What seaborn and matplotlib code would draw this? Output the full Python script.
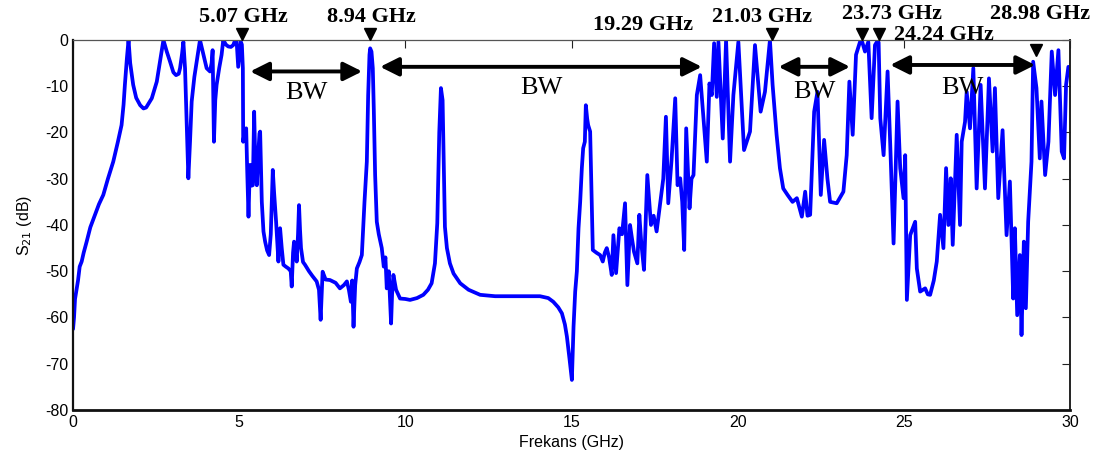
import matplotlib
matplotlib.use("Agg")
import matplotlib.pyplot as plt
import seaborn as sns
import pandas as pd

# S21 trace (GHz, dB)
freq = [
    0.00, 0.03, 0.06, 0.11, 0.15, 0.20, 0.26, 0.32, 0.41, 0.52, 0.66, 0.78, 0.91, 1.05, 1.21, 1.35,
    1.46, 1.52, 1.56, 1.62, 1.67, 1.72, 1.81, 1.90, 2.02, 2.12, 2.20, 2.37, 2.52, 2.62, 2.72, 2.82,
    2.92, 3.02, 3.10, 3.18, 3.22, 3.28, 3.32, 3.37, 3.42, 3.47, 3.52, 3.57, 3.65, 3.72, 3.82, 3.92,
    4.02, 4.12, 4.17, 4.20, 4.24, 4.28, 4.32, 4.40, 4.47, 4.52, 4.60, 4.67, 4.75, 4.82, 4.88, 4.92,
    4.97, 5.05, 5.08, 5.11, 5.12, 5.16, 5.18, 5.21, 5.24, 5.28, 5.31, 5.33, 5.37, 5.41, 5.45, 5.48,
    5.53, 5.57, 5.61, 5.63, 5.68, 5.73, 5.78, 5.84, 5.90, 5.95, 6.01, 6.05, 6.11, 6.15, 6.18, 6.23,
    6.28, 6.33, 6.40, 6.48, 6.55, 6.58, 6.62, 6.65, 6.70, 6.73, 6.77, 6.80, 6.83, 6.86, 6.92, 6.98,
    7.10, 7.20, 7.33, 7.40, 7.45, 7.48, 7.51, 7.60, 7.73, 7.90, 8.03, 8.15, 8.24, 8.30, 8.36, 8.40,
    8.44, 8.49, 8.54, 8.62, 8.69, 8.77, 8.84, 8.88, 8.92, 8.94, 8.98, 9.02, 9.05, 9.09, 9.14, 9.20,
    9.29, 9.35, 9.40, 9.44, 9.50, 9.57, 9.60, 9.64, 9.72, 9.84, 10.00, 10.14, 10.35, 10.54, 10.68, 10.79,
    10.89, 10.96, 11.02, 11.07, 11.12, 11.19, 11.25, 11.34, 11.45, 11.65, 11.90, 12.25, 12.70, 13.25, 14.05, 14.30,
    14.45, 14.60, 14.71, 14.80, 14.86, 14.94, 15.01, 15.06, 15.11, 15.16, 15.21, 15.26, 15.31, 15.35, 15.40, 15.43,
    15.47, 15.50, 15.56, 15.60, 15.64, 15.75, 15.86, 15.94, 16.00, 16.06, 16.13, 16.21, 16.26, 16.34, 16.44, 16.52,
    16.61, 16.68, 16.76, 16.82, 16.88, 16.98, 17.04, 17.10, 17.18, 17.28, 17.34, 17.39, 17.47, 17.56, 17.62, 17.68,
    17.76, 17.84, 17.91, 18.01, 18.12, 18.19, 18.27, 18.33, 18.39, 18.45, 18.55, 18.61, 18.67, 18.77, 18.87, 18.97,
    19.07, 19.15, 19.22, 19.29, 19.37, 19.42, 19.55, 19.65, 19.77, 19.87, 20.02, 20.19, 20.37, 20.52, 20.69, 20.82,
    20.97, 21.05, 21.17, 21.27, 21.37, 21.50, 21.65, 21.78, 21.93, 22.03, 22.10, 22.18, 22.30, 22.40, 22.50, 22.60,
    22.70, 22.78, 22.98, 23.18, 23.28, 23.36, 23.46, 23.56, 23.68, 23.73, 23.83, 23.93, 24.03, 24.13, 24.19, 24.24,
    24.29, 24.39, 24.51, 24.59, 24.69, 24.81, 24.89, 24.99, 25.04, 25.09, 25.19, 25.34, 25.39, 25.49, 25.64, 25.72,
    25.79, 25.90, 25.99, 26.09, 26.19, 26.27, 26.34, 26.41, 26.47, 26.59, 26.69, 26.74, 26.84, 26.89, 26.99, 27.09,
    27.19, 27.31, 27.44, 27.56, 27.67, 27.74, 27.84, 27.97, 28.09, 28.19, 28.29, 28.34, 28.41, 28.49, 28.54, 28.61,
    28.67, 28.74, 28.84, 28.89, 28.99, 29.09, 29.14, 29.25, 29.35, 29.45, 29.55, 29.65, 29.75, 29.82, 29.88, 29.95,
]
s21 = [
    -62.5, -60.0, -56.0, -53.7, -52.0, -49.0, -47.9, -46.0, -43.6, -40.5, -37.8, -35.5, -33.5, -30.0, -26.3, -22.0,
    -18.4, -14.0, -9.7, -4.0, 0.0, -5.0, -9.7, -12.5, -14.1, -14.8, -14.6, -12.6, -9.0, -4.5, 0.0, -2.5,
    -4.7, -7.0, -7.6, -7.3, -6.1, -3.0, -0.4, -6.1, -18.0, -29.9, -22.0, -13.3, -8.0, -4.7, 0.0, -3.0,
    -6.1, -6.8, -5.0, -2.2, -22.0, -13.0, -9.7, -6.0, -3.2, 0.0, -1.0, -1.4, -1.5, -1.1, 0.0, 0.0,
    -5.8, -0.4, -1.0, -6.1, -22.0, -20.0, -21.3, -19.1, -28.0, -38.2, -30.0, -27.0, -31.5, -31.4, -15.5, -25.0,
    -31.4, -25.0, -20.2, -19.8, -35.0, -41.4, -43.6, -45.5, -46.5, -42.0, -28.1, -33.0, -39.3, -44.0, -47.9, -40.7,
    -45.0, -48.6, -49.0, -49.4, -50.0, -53.3, -46.0, -43.6, -45.0, -47.9, -42.0, -35.7, -41.0, -45.0, -48.0, -48.6,
    -50.0, -51.0, -52.2, -54.0, -60.5, -55.0, -50.1, -51.8, -51.9, -52.5, -53.7, -53.0, -52.2, -54.0, -56.6, -52.0,
    -62.0, -53.0, -49.4, -48.0, -46.5, -35.0, -26.3, -12.0, -3.2, -1.8, -2.5, -6.1, -15.0, -29.2, -39.3, -42.0,
    -45.0, -49.0, -47.0, -53.7, -50.0, -61.3, -55.0, -50.8, -54.0, -55.9, -56.0, -56.2, -55.8, -55.1, -54.0, -52.6,
    -48.3, -39.6, -20.0, -10.4, -13.0, -40.4, -45.0, -48.3, -50.5, -52.6, -54.0, -55.1, -55.4, -55.4, -55.4, -55.8,
    -56.6, -57.8, -59.1, -61.5, -64.1, -69.0, -73.5, -62.0, -54.4, -50.0, -40.7, -35.0, -27.7, -23.4, -22.0, -14.1,
    -17.0, -18.4, -19.8, -33.0, -45.4, -46.0, -46.5, -47.9, -46.0, -45.0, -47.0, -50.8, -42.2, -50.4, -40.7, -42.0,
    -35.3, -53.0, -40.0, -43.0, -45.8, -48.3, -37.8, -44.0, -49.7, -29.2, -35.0, -40.0, -38.0, -41.4, -38.0, -34.6,
    -30.0, -16.6, -35.3, -25.9, -12.6, -31.4, -29.9, -35.0, -45.4, -19.1, -36.4, -30.0, -29.2, -11.9, -7.6, -16.9,
    -26.3, -9.4, -11.9, -0.7, -12.3, -0.4, -21.3, 0.0, -26.3, -11.9, -0.4, -23.8, -19.8, -1.1, -15.5, -11.2,
    0.0, -9.7, -20.5, -27.7, -32.1, -33.5, -35.0, -34.2, -38.2, -32.8, -38.0, -37.8, -15.5, -11.2, -33.5, -21.6,
    -30.0, -35.0, -35.3, -32.8, -24.9, -9.0, -20.5, -3.2, -0.4, 0.0, -2.5, -0.4, -16.9, -1.1, -0.4, -0.5,
    -16.9, -24.9, -6.8, -22.7, -44.0, -13.3, -27.7, -34.2, -24.9, -56.2, -42.2, -39.3, -49.4, -54.4, -53.7, -55.0,
    -55.1, -52.0, -47.9, -37.8, -45.0, -27.7, -40.0, -29.9, -44.3, -20.5, -40.0, -22.0, -17.7, -11.2, -19.1, -6.1,
    -32.1, -9.7, -32.1, -8.3, -24.1, -10.4, -34.2, -19.5, -42.2, -30.6, -55.9, -40.7, -59.5, -46.5, -63.8, -43.6,
    -58.0, -39.3, -26.3, -4.7, -10.4, -25.6, -13.3, -29.2, -22.0, -2.5, -11.9, -2.2, -24.1, -25.6, -9.7, -5.8,
]

# annotated resonance frequencies
marker_freqs = [5.07, 8.94, 21.03, 23.73, 24.24, 28.98]
label_texts = ["5.07 GHz", "8.94 GHz", "19.29 GHz", "21.03 GHz", "23.73 GHz", "24.24 GHz", "28.98 GHz"]
# bandwidth arrows (start, end) in GHz
bw_start = [5.33, 9.24, 21.23, 24.59]
bw_end = [8.70, 18.92, 23.38, 28.95]

df = pd.DataFrame({"Frekans (GHz)": freq, "S21": s21})

sns.set_theme(style="white")
plt.rcParams["font.family"] = ["Liberation Sans", "DejaVu Sans"]
plt.rcParams["axes.unicode_minus"] = False
plt.rcParams["text.color"] = "black"
plt.rcParams["axes.labelcolor"] = "black"

fig = plt.figure(figsize=(11.1, 4.63), dpi=100)
ax = fig.add_axes([0.0658, 0.1145, 0.8982, 0.7991])

sns.lineplot(data=df, x="Frekans (GHz)", y="S21", sort=False, estimator=None,
             color="#0000ff", lw=2.7, ax=ax)

ax.set_xlim(0, 30)
ax.set_ylim(-80, 0)
ax.set_xticks(range(0, 31, 5))
ax.set_yticks(range(-80, 1, 10))
ax.tick_params(direction="in", length=6, width=0.8, colors="#222222", labelsize=11.5,
               top=True, right=True, labelcolor="black")
ax.set_xlabel("Frekans (GHz)", fontsize=11.5, labelpad=4)
ax.set_ylabel("S$_{21}$ (dB)", fontsize=11.5, labelpad=8)

for side, lw, col in [("bottom", 2.0, "#111111"), ("left", 1.6, "#111111"),
                      ("top", 0.9, "#555555"), ("right", 1.4, "#222222")]:
    ax.spines[side].set_visible(True)
    ax.spines[side].set_linewidth(lw)
    ax.spines[side].set_color(col)

# resonance markers
marker_y = [1.3, 1.3, 1.3, 1.3, 1.3, -2.2]
ax.plot(marker_freqs, marker_y, "v", color="black", ms=9, clip_on=False, zorder=5)

# frequency labels
label_pos = [(5.12, 5.0), (8.97, 5.0), (17.15, 3.2), (20.72, 5.0), (24.65, 5.6), (26.21, 1.1), (29.10, 5.6)]
serif = ["Liberation Serif", "DejaVu Serif"]
for txt, (lx, ly) in zip(label_texts, label_pos):
    ax.text(lx, ly, txt, ha="center", va="center", fontsize=16, fontweight="bold",
            family=serif, color="black", clip_on=False, zorder=6)

# bandwidth arrows
arrow_y = [-6.8, -5.8, -5.8, -5.4]
bw_label_y = [-11.5, -10.4, -11.2, -10.4]
for x1, x2, ay, by in zip(bw_start, bw_end, arrow_y, bw_label_y):
    ax.annotate("", xy=(x2, ay), xytext=(x1, ay),
                arrowprops=dict(arrowstyle="<|-|>", color="black", lw=2.8,
                                mutation_scale=28, shrinkA=0, shrinkB=0))
    ax.text((x1 + x2) / 2, by, "BW", ha="center", va="center", fontsize=19,
            family=serif, color="black")

fig.savefig("out.png", dpi=100)
plt.close(fig)
